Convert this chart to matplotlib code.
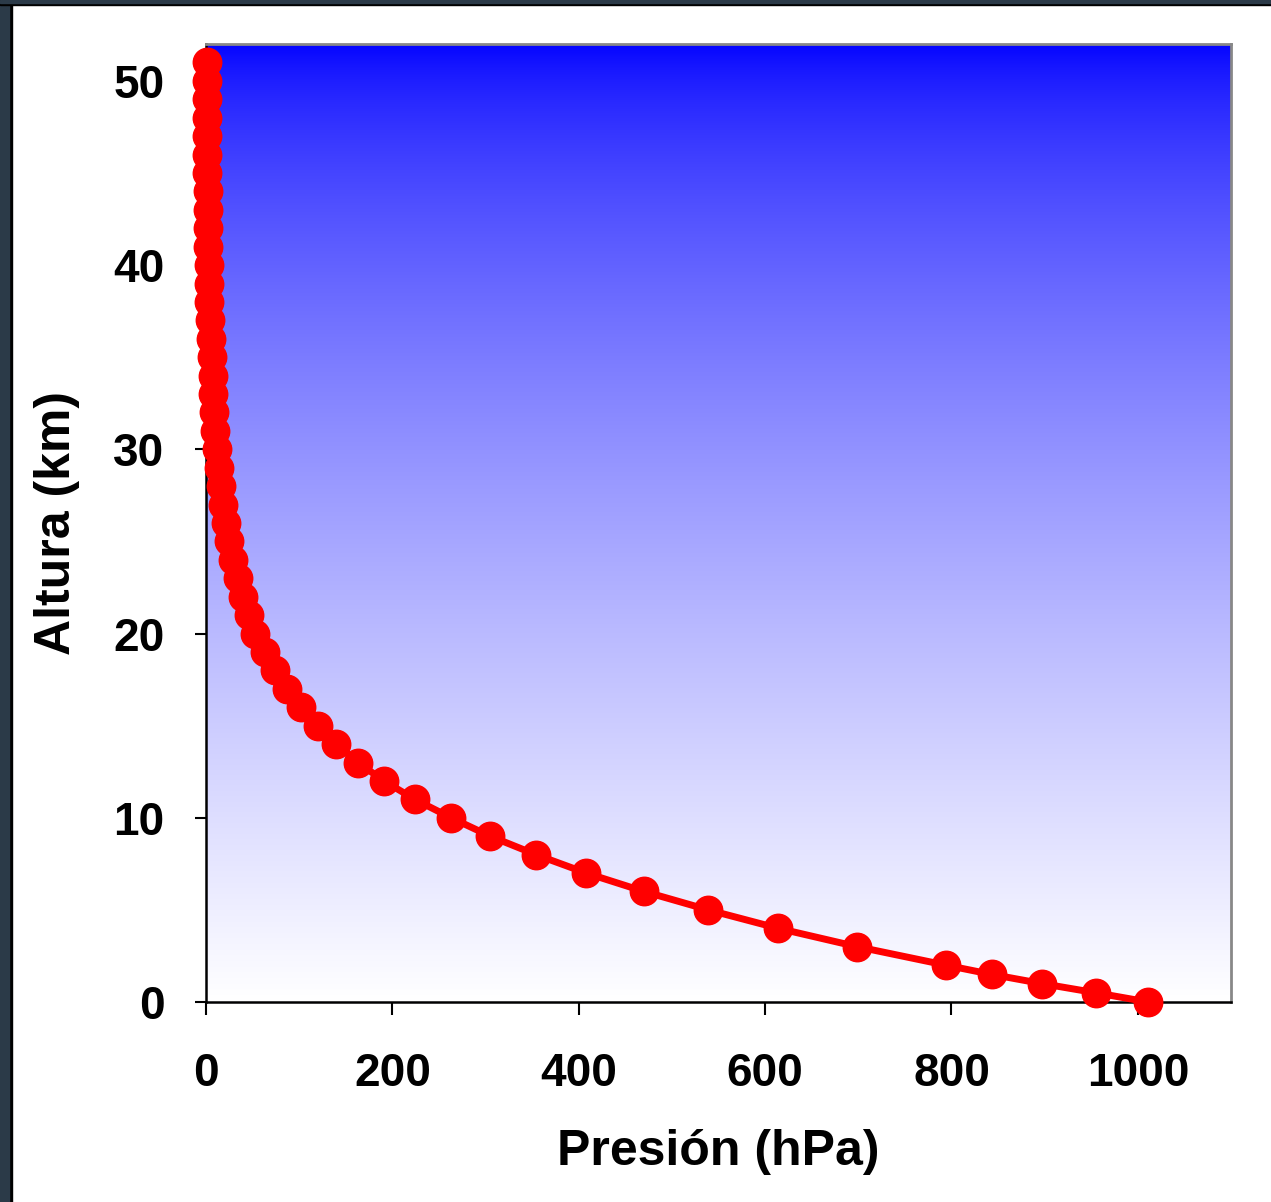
import numpy as np
import matplotlib
matplotlib.use('Agg')
import matplotlib.pyplot as plt
from matplotlib.patches import Rectangle

# altura (km) y presion (hPa)
altura = [0, 0.5, 1, 1.5, 2, 3, 4, 5, 6, 7, 8, 9, 10, 11, 12, 13, 14, 15, 16, 17,
          18, 19, 20, 21, 22, 23, 24, 25, 26, 27, 28, 29, 30, 31, 32, 33, 34, 35,
          36, 37, 38, 39, 40, 41, 42, 43, 44, 45, 46, 47, 48, 49, 50, 51]
presion = [1011, 955, 897, 843, 794, 699, 614, 539, 470, 408, 354, 305, 263, 224,
           191, 163, 140, 120, 102, 87, 74, 63, 53, 46, 40, 34, 29, 25, 21.5, 18.5,
           16, 14, 12, 10, 9, 8, 7, 6, 5, 4.3, 3.7, 3.2, 2.9, 2.5, 2.2, 1.9, 1.7,
           1.5, 1.3, 1.1, 1.0, 0.9, 0.8, 0.7]

x_ticks = [0, 200, 400, 600, 800, 1000]
y_ticks = [0, 10, 20, 30, 40, 50]

W, H = 1271, 1202
fig = plt.figure(figsize=(W / 100, H / 100), dpi=100)
fig.patch.set_facecolor('white')

# marco oscuro de la diapositiva
fig.add_artist(Rectangle((0, 0), 12 / W, 1, transform=fig.transFigure, color='black', zorder=0))
fig.add_artist(Rectangle((0, 0), 9 / W, 1, transform=fig.transFigure, color='#2b3a48', zorder=0))
fig.add_artist(Rectangle((0, 1 - 5 / H), 1, 5 / H, transform=fig.transFigure, color='black', zorder=0))
fig.add_artist(Rectangle((0, 1 - 2.5 / H), 1, 2.5 / H, transform=fig.transFigure, color='#2b3a48', zorder=0))

ax = fig.add_axes([206 / W, (H - 1002) / H, (1231 - 206) / W, (1002 - 44) / H])

# fondo degradado azul -> blanco
t = np.linspace(0, 1, 512)[:, None]
f = t ** 0.65
grad = np.dstack([f, f, np.ones_like(f)])
ax.imshow(grad, extent=[0, 1, 0, 1], transform=ax.transAxes, aspect='auto', zorder=0, origin='upper')

ax.plot(presion, altura, color='red', lw=5, marker='o', markersize=20.5,
        markeredgecolor='red', clip_on=False, zorder=5)

ax.set_xlim(0, 1100)
ax.set_ylim(0, 52)
ax.set_xticks(x_ticks)
ax.set_yticks(y_ticks)

for s in ['left', 'bottom']:
    ax.spines[s].set_color('black')
    ax.spines[s].set_linewidth(1.8)
for s in ['top', 'right']:
    ax.spines[s].set_color('#888888')
    ax.spines[s].set_linewidth(2)

font = 'Liberation Sans'
ax.tick_params(axis='x', direction='out', length=9, width=1.5, pad=27, labelsize=33)
ax.tick_params(axis='y', direction='out', length=8, width=1.5, pad=22, labelsize=33)
for lab in ax.get_xticklabels() + ax.get_yticklabels():
    lab.set_fontfamily(font)
    lab.set_fontweight('bold')

ax.set_xlabel('Presión (hPa)', fontsize=36, fontweight='bold', family=font, labelpad=24)
ax.set_ylabel('Altura (km)', fontsize=36, fontweight='bold', family=font, labelpad=24)

fig.savefig('out.png', dpi=100)
